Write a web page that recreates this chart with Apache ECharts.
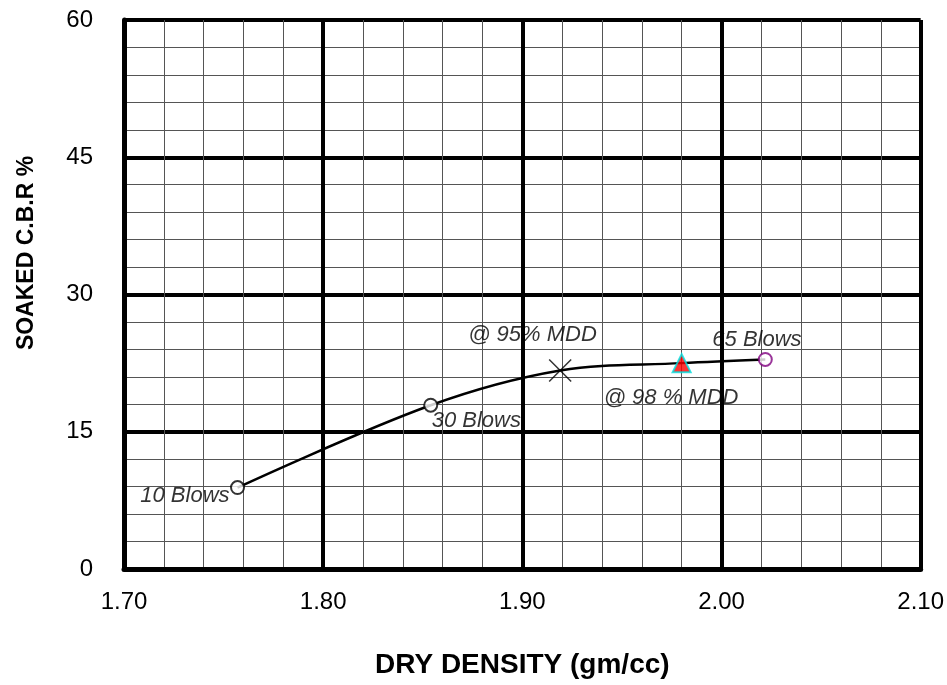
<!DOCTYPE html>
<html>
<head>
<meta charset="utf-8">
<script src="https://cdn.jsdelivr.net/npm/echarts@6/dist/echarts.min.js"></script>
<style>
html,body{margin:0;padding:0;background:#fff;}
#chart{width:947px;height:685px;}
</style>
</head>
<body>
<div id="chart"></div>
<script>
// Data
var blowLabels = ['10 Blows', '30 Blows', '65 Blows'];
var blowDensity = [1.757, 1.854, 2.022];
var blowCBR = [8.9, 17.9, 22.9];
var mdd95 = [1.919, 21.7];
var mdd98 = [1.980, 22.5];
var curveDensity = [1.757, 1.854, 1.919, 1.980, 2.022];
var curveCBR = [8.9, 17.9, 21.7, 22.5, 22.9];
var xTicks = ['1.70', '1.80', '1.90', '2.00', '2.10'];
var yTicks = [0, 15, 30, 45, 60];
var xTitle = 'DRY DENSITY (gm/cc)';
var yTitle = 'SOAKED C.B.R %';

var FONT = 'Liberation Sans, Arial, sans-serif';
var labelBase = {show: true, position: 'inside', color: '#000', fontFamily: FONT, fontStyle: 'italic', fontSize: 22, verticalAlign: 'middle'};

var chart = echarts.init(document.getElementById('chart'), null, {renderer: 'canvas'});
chart.setOption({
  animation: false,
  backgroundColor: '#fff',
  grid: {left: 124, right: 24, top: 20, bottom: 116},
  graphic: [
    {type: 'text', x: 27, y: 253, rotation: Math.PI / 2,
      style: {text: yTitle, fill: '#000', font: 'bold 23px ' + FONT, textAlign: 'center', textVerticalAlign: 'middle'}}
  ],
  xAxis: {
    type: 'value', min: 1.7, max: 2.1, interval: 0.1,
    name: xTitle, nameLocation: 'middle', nameGap: 82,
    nameTextStyle: {fontFamily: FONT, fontWeight: 'bold', fontSize: 28, color: '#000'},
    axisLine: {show: true, lineStyle: {color: '#000', width: 5}},
    axisTick: {show: false},
    axisLabel: {fontFamily: FONT, fontSize: 24, color: '#000', margin: 21,
      formatter: function (v) { return xTicks[Math.round((v - 1.7) / 0.1)]; }},
    splitLine: {show: true, lineStyle: {color: '#000', width: 4}},
    minorTick: {show: false, splitNumber: 5},
    minorSplitLine: {show: true, lineStyle: {color: '#555', width: 1}}
  },
  yAxis: {
    type: 'value', min: 0, max: 60, interval: 15,
    axisLine: {show: true, lineStyle: {color: '#000', width: 5}},
    axisTick: {show: false},
    axisLabel: {fontFamily: FONT, fontSize: 24, color: '#000', margin: 31,
      formatter: function (v) { return String(yTicks[Math.round(v / 15)]); }},
    splitLine: {show: true, lineStyle: {color: '#000', width: 4}},
    minorTick: {show: false, splitNumber: 5},
    minorSplitLine: {show: true, lineStyle: {color: '#555', width: 1}}
  },
  series: [
    {
      type: 'line', smooth: 0.35, symbol: 'none',
      data: curveDensity.map(function (d, i) { return [d, curveCBR[i]]; }),
      lineStyle: {color: '#000', width: 2.5}, z: 3
    },
    {
      type: 'scatter', symbol: 'circle', symbolSize: 13,
      itemStyle: {color: '#fff', borderColor: '#000', borderWidth: 2},
      data: [
        {value: [blowDensity[0], blowCBR[0]], label: Object.assign({}, labelBase, {formatter: blowLabels[0], align: 'right', offset: [-8, 8]})},
        {value: [blowDensity[1], blowCBR[1]], label: Object.assign({}, labelBase, {formatter: blowLabels[1], align: 'left', offset: [1, 16]})},
        {value: [blowDensity[2], blowCBR[2]], itemStyle: {borderColor: '#800080'}, label: Object.assign({}, labelBase, {formatter: blowLabels[2], align: 'left', offset: [-53, -20]})}
      ],
      z: 5
    },
    {
      type: 'scatter',
      symbol: 'path://M0,0 L10,10 M10,0 L0,10', symbolSize: 22,
      itemStyle: {color: 'none', borderColor: '#000', borderWidth: 1.5},
      data: [{value: mdd95, label: Object.assign({}, labelBase, {formatter: '@ 95% MDD', align: 'left', offset: [-92, -36]})}],
      z: 5
    },
    {
      type: 'scatter', symbol: 'triangle', symbolSize: 18,
      itemStyle: {color: '#ff0000', borderColor: '#00e0e0', borderWidth: 2},
      data: [{value: mdd98, label: Object.assign({}, labelBase, {formatter: '@ 98 % MDD', align: 'left', offset: [-78, 35]})}],
      z: 5
    }
  ]
});
</script>
</body>
</html>
